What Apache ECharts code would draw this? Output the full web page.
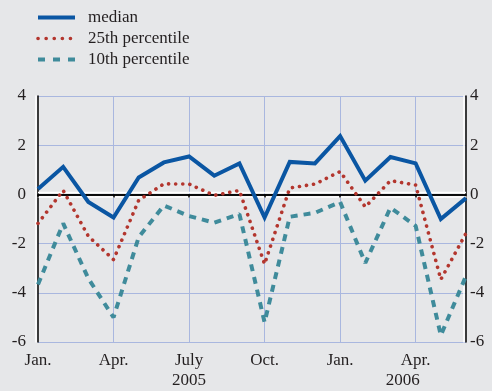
<!DOCTYPE html>
<html><head><meta charset="utf-8">
<script src="https://cdn.jsdelivr.net/npm/echarts@6/dist/echarts.min.js"></script>
<style>html,body{margin:0;padding:0;background:#e6e7e9}#c{width:492px;height:391px}</style>
</head><body><div id="c"></div>
<script>
const months = ['Jan.','Feb.','Mar.','Apr.','May','June','July','Aug.','Sep.','Oct.','Nov.','Dec.',
                'Jan.','Feb.','Mar.','Apr.','May','June'];
const years = {6:'2005', 15:'2006'};
const median = [0.22, 1.12, -0.31, -0.94, 0.69, 1.3, 1.54, 0.76, 1.26, -0.94, 1.32, 1.26, 2.37, 0.56, 1.52, 1.26, -1.0, -0.15];
const p25 = [-1.18, 0.16, -1.7, -2.65, -0.24, 0.43, 0.42, -0.04, 0.16, -2.83, 0.26, 0.42, 0.93, -0.51, 0.56, 0.38, -3.46, -1.58];
const p10 = [-3.66, -1.18, -3.42, -5.0, -1.74, -0.45, -0.88, -1.15, -0.8, -5.2, -0.91, -0.75, -0.31, -2.79, -0.54, -1.28, -5.73, -3.32];
const yTicks = {min: -6, max: 4, interval: 2};

const font = 'Liberation Serif';
const txt = '#231f20';
const fs = 17;
const cMed = '#0a56a3', c25 = '#b3362e', c10 = '#3f8b9b';
const chart = echarts.init(document.getElementById('c'));
const axisShadow = {color: '#000', width: 1.5, shadowColor: '#fff', shadowBlur: 0};
chart.setOption({
  backgroundColor: '#e6e7e9',
  animation: false,
  textStyle: {fontFamily: font},
  legend: {
    orient: 'vertical', left: 36, top: 9, padding: 0, itemWidth: 37, itemHeight: 14, itemGap: 4,
    itemStyle: {opacity: 0},
    textStyle: {fontFamily: font, fontSize: fs, color: txt, padding: [0, 0, 0, 8], lineHeight: 17},
    data: [
      {name: 'median', lineStyle: {color: cMed, width: 4, type: 'solid'}},
      {name: '25th percentile', lineStyle: {color: c25, width: 3.6, type: [0.1, 8], cap: 'round'}},
      {name: '10th percentile', lineStyle: {color: c10, width: 4, type: [7, 8]}}
    ]
  },
  grid: {left: 38, right: 26, top: 96, bottom: 46},
  xAxis: {
    type: 'category', boundaryGap: false, data: months,
    axisLine: {lineStyle: Object.assign({}, axisShadow, {shadowOffsetY: 2})},
    axisTick: {show: true, length: 3, interval: i => i % 3 === 0, lineStyle: {color: '#000', width: 1.5}},
    axisLabel: {
      interval: i => i % 3 === 0, margin: 9, fontFamily: font, fontSize: fs, color: txt, lineHeight: 20,
      formatter: (v, i) => years[i] ? (i === 15 ? v + '\n{y|' + years[i] + '}' : v + '\n' + years[i]) : v,
      rich: {y: {fontFamily: font, fontSize: fs, color: txt, padding: [0, 26, 0, 0], lineHeight: 20}}
    },
    splitLine: {show: true, interval: i => i % 3 === 0 && i > 0, lineStyle: {color: '#a9b7df', width: 1}}
  },
  yAxis: [
    {type: 'value', min: yTicks.min, max: yTicks.max, interval: yTicks.interval, position: 'left',
     axisLine: {show: true, lineStyle: Object.assign({}, axisShadow, {shadowOffsetX: -2})},
     axisTick: {show: false},
     axisLabel: {margin: 12, fontFamily: font, fontSize: fs, color: txt},
     splitLine: {show: true, lineStyle: {color: '#a9b7df', width: 1}}},
    {type: 'value', min: yTicks.min, max: yTicks.max, interval: yTicks.interval, position: 'right',
     axisLine: {show: true, lineStyle: Object.assign({}, axisShadow, {shadowOffsetX: -2})},
     axisTick: {show: false},
     axisLabel: {margin: 4, fontFamily: font, fontSize: fs, color: txt},
     splitLine: {show: false}}
  ],
  series: [
    {name: '10th percentile', type: 'line', data: p10, symbol: 'none', z: 3,
     itemStyle: {color: c10},
     lineStyle: {color: c10, width: 4, type: [7, 6]}},
    {name: '25th percentile', type: 'line', data: p25, symbol: 'none', z: 4,
     itemStyle: {color: c25},
     lineStyle: {color: c25, width: 3.6, type: [0.1, 7], cap: 'round'}},
    {name: 'median', type: 'line', data: median, symbol: 'none', z: 5,
     itemStyle: {color: cMed},
     lineStyle: {color: cMed, width: 4, join: 'miter'},
     markLine: {silent: true, symbol: 'none', label: {show: false}, z: 1,
       lineStyle: {color: '#000', width: 1.5, type: 'solid', shadowColor: '#fff', shadowBlur: 0, shadowOffsetY: -2.5},
       data: [{yAxis: 0}]}}
  ]
});
</script></body></html>
